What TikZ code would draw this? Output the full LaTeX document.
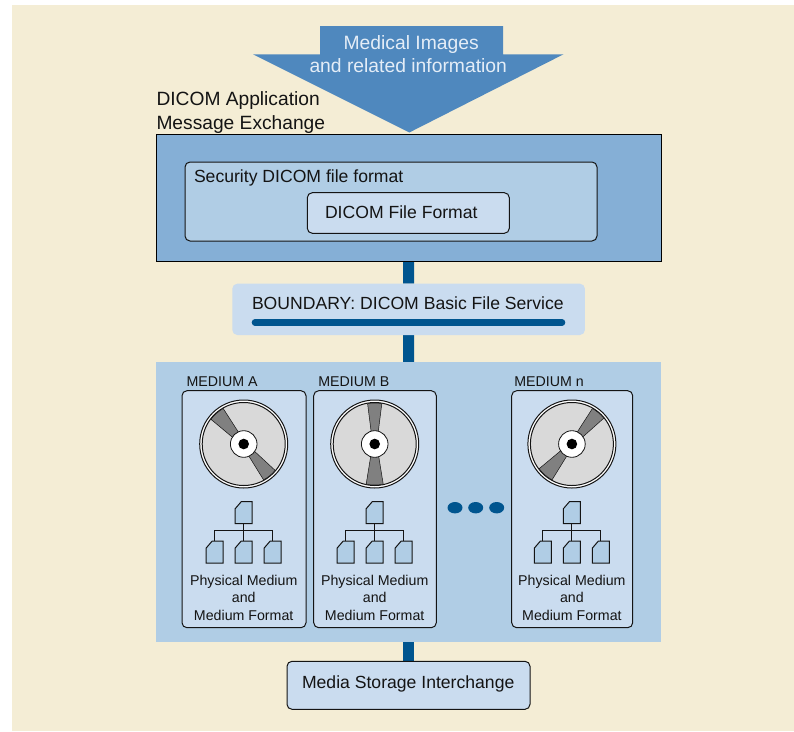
\documentclass[tikz,border=0pt]{standalone}
\usepackage{fontspec}
\setmainfont{Liberation Sans}
\usetikzlibrary{calc,backgrounds}
\definecolor{beigebg}{HTML}{F4EDD5}
\definecolor{steelarrow}{HTML}{4F88BE}
\definecolor{outerblue}{HTML}{85AFD6}
\definecolor{midblue}{HTML}{B0CDE5}
\definecolor{paleblue}{HTML}{CADCEF}
\definecolor{navy}{HTML}{00558F}
\definecolor{inkdark}{HTML}{141414}
\definecolor{disclight}{HTML}{D9D9D9}
\definecolor{discdark}{HTML}{808080}
\tikzset{
  pxbox/.style={inner sep=0pt,outer sep=0pt,anchor=north west},
  roundbox/.style={pxbox,draw=inkdark,line width=1pt,rounded corners=5pt},
  label/.style={inner sep=0pt,outer sep=0pt,text=inkdark,align=center},
  biglabel/.style={label,font=\fontsize{17.6}{21}\selectfont},
  smalllabel/.style={label,font=\fontsize{14.2}{17.4}\selectfont},
  busline/.style={navy,line width=11pt},
  docnode/.style={inner sep=0pt,outer sep=0pt,minimum width=17pt,minimum height=22pt},
  docoutline/.style={draw=inkdark,fill=midblue,line width=1pt,line join=miter},
  treeline/.style={draw=inkdark,line width=1.1pt},
}
\newcommand{\docat}[3]{%
  \node[docnode] (#1) at (#2,#3) {};
  \path[docoutline] ($(#1.north west)+(0,-7pt)$) -- ($(#1.north west)+(6pt,0)$) -- (#1.north east) -- (#1.south east) -- (#1.south west) -- cycle;
}
\newcommand{\wedgeat}[4]{% centre x, y, from angle, to angle
  \filldraw[fill=discdark,draw=inkdark,line width=0.5pt]
    ({#1+2*cos((#3+#4)/2-90)},{#2-2*sin((#3+#4)/2-90)})
    -- ({#1+41*cos(#3)},{#2-41*sin(#3)})
    arc[start angle=#3,end angle=#4,radius=41pt]
    -- ({#1+2*cos((#3+#4)/2+90)},{#2-2*sin((#3+#4)/2+90)}) -- cycle;
}
\newcommand{\mediumunit}[9]{% id, left, right, title, a1,a2,a3,a4, title x
  \pgfmathsetmacro{\boxw}{#3-#2}
  \pgfmathsetmacro{\cx}{(#2+#3)/2-0.3}
  \node[roundbox,fill=paleblue,minimum width=\boxw pt,minimum height=237pt] (#1-box) at (#2,390.7) {};
  \node[smalllabel,anchor=base west] (#1-title) at (#9,386.5) {#4};
  \fill[white] (\cx,444) circle[radius=44pt];
  \draw[inkdark,line width=1pt] (\cx,444) circle[radius=44pt];
  \filldraw[fill=disclight,draw=inkdark,line width=1pt] (\cx,444) circle[radius=41.5pt];
  \wedgeat{\cx}{444}{#5}{#6}
  \wedgeat{\cx}{444}{#7}{#8}
  \filldraw[fill=white,draw=inkdark,line width=0.8pt] (\cx,444) circle[radius=13.3pt];
  \fill[black] (\cx,444) circle[radius=5.3pt];
  \docat{#1-root}{\cx}{512.7}
  \docat{#1-c1}{\cx-29}{552}
  \docat{#1-c2}{\cx}{552}
  \docat{#1-c3}{\cx+29}{552}
  \coordinate (#1-bus) at (\cx,530.7);
  \draw[treeline] (#1-root.south) -- (#1-c2.north);
  \draw[treeline] (#1-c1.north) |- (#1-bus) -| (#1-c3.north);
  \node[smalllabel,anchor=north] (#1-text) at (\cx,575) {Physical Medium\\and\\Medium Format};
}
\begin{document}
\begin{tikzpicture}[x=1pt,y=-1pt]
\useasboundingbox (0,0) rectangle (794,731);

% main boxes
\node[pxbox,fill=midblue,minimum width=505pt,minimum height=280pt] (panel) at (156,362) {};
\node[pxbox,draw=black,line width=1pt,fill=outerblue,minimum width=505pt,minimum height=127pt] (app) at (156,134) {};
\node[roundbox,fill=paleblue,minimum width=243pt,minimum height=48pt] (media) at (287,661.3) {};
\node[pxbox,fill=paleblue,rounded corners=5pt,minimum width=352.6pt,minimum height=51.3pt] (boundary) at (232.3,283.7) {};

\begin{pgfonlayer}{background}
\fill[white] (0,0) rectangle (794,731);
\fill[beigebg] (12,5) rectangle (794,731);
\draw[busline] (app.south) -- (boundary.north);
\draw[busline] (boundary.south) -- (panel.north);
\draw[busline] (panel.south) -- (media.north);
\end{pgfonlayer}
\node[biglabel] (mediatext) at (408.2,684.3) {Media Storage Interchange};

% arrow
\fill[steelarrow] (320,26) -- (503,26) -- (503,54.3) -- (563.5,54.3) -- (409.3,132.5) -- (253,54.3) -- (320,54.3) -- cycle;
\node[label,text=paleblue!50!white,font=\fontsize{19.3}{23.4}\selectfont] (arrowtext) at (408.2,54) {\hspace*{6pt}Medical Images\\and related information};

% application labels
\node[label,align=left,anchor=north west,font=\fontsize{19.2}{24}\selectfont] (apptext) at (156.5,91.5) {DICOM Application\\Message Exchange};

% inner boxes
\node[roundbox,fill=midblue,minimum width=412pt,minimum height=79pt] (sec) at (185,162) {};
\node[biglabel,anchor=base west] (sectext) at (194,182) {Security DICOM file format};
\node[roundbox,fill=paleblue,minimum width=202pt,minimum height=40.6pt] (file) at (307.3,192.7) {};
\node[biglabel,anchor=base west] (filetext) at (325,218) {DICOM File Format};

% boundary text and bar
\node[biglabel,anchor=base west] (boundarytext) at (252,309) {BOUNDARY: DICOM Basic File Service};
\coordinate (barl) at (255,322.4);
\coordinate (barr) at (562,322.4);
\draw[navy,line width=6.6pt,line cap=round] (barl) -- (barr);

% media units
\mediumunit{ma}{182}{306}{MEDIUM A}{120}{143}{-61}{-40}{186.5}
\mediumunit{mb}{313.7}{436.3}{MEDIUM B}{80}{100}{258}{282}{318.3}
\mediumunit{mn}{511.7}{632.7}{MEDIUM n}{39}{60}{217}{241}{514.3}

% dots
\fill[navy] (455,507.7) ellipse[x radius=7.5pt,y radius=5.7pt];
\fill[navy] (475.7,507.7) ellipse[x radius=7.5pt,y radius=5.7pt];
\fill[navy] (496.7,507.7) ellipse[x radius=7.5pt,y radius=5.7pt];
\end{tikzpicture}
\end{document}
